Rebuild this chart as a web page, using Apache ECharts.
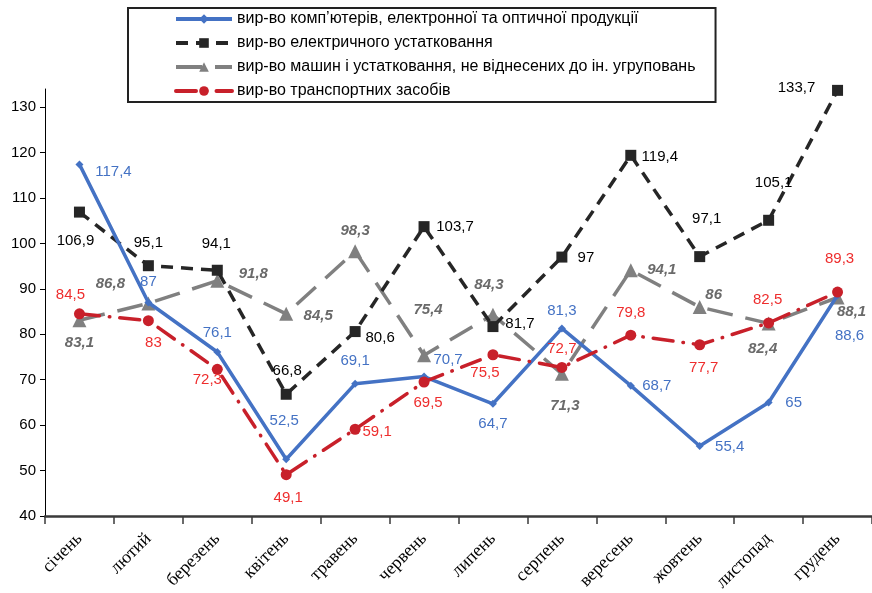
<!DOCTYPE html>
<html>
<head>
<meta charset="utf-8">
<script src="https://cdn.jsdelivr.net/npm/echarts@6/dist/echarts.min.js"></script>
<style>
  html, body { margin: 0; padding: 0; background: #fff; }
  #chart { width: 872px; height: 593px; }
</style>
</head>
<body>
<div id="chart"></div>
<script>
// Місяці року
const months = ['січень', 'лютий', 'березень', 'квітень', 'травень', 'червень',
  'липень', 'серпень', 'вересень', 'жовтень', 'листопад', 'грудень'];

// Індекси виробництва за галузями, %
const computers = [117.4, 87, 76.1, 52.5, 69.1, 70.7, 64.7, 81.3, 68.7, 55.4, 65, 88.6];
const electrical = [106.9, 95.1, 94.1, 66.8, 80.6, 103.7, 81.7, 97, 119.4, 97.1, 105.1, 133.7];
const machinery = [83.1, 86.8, 91.8, 84.5, 98.3, 75.4, 84.3, 71.3, 94.1, 86, 82.4, 88.1];
const transport = [84.5, 83, 72.3, 49.1, 59.1, 69.5, 75.5, 72.7, 79.8, 77.7, 82.5, 89.3];

const seriesNames = [
  'вир-во комп\u2019ютерів, електронної та оптичної продукції',
  'вир-во електричного устатковання',
  'вир-во машин і устатковання, не віднесених до ін. угруповань',
  'вир-во транспортних засобів'
];

// Позначки шкали значень
const yTicks = [40, 50, 60, 70, 80, 90, 100, 110, 120, 130];

// Зміщення підписів відносно точок, px [dx, dy]
const offComputers = [[34, 7], [0, -21], [0, -19], [-2, -38], [0, -23], [24, -17],
  [0, 20], [0, -18], [26, 0], [30, 1], [25, 0], [12, 41]];
const offElectrical = [[-4, 29], [0, -23], [-1, -26], [1, -23], [25, 6], [31, 0],
  [27, -3], [24, 1], [29, 2], [7, -38], [5, -37], [-41, -3]];
const offMachinery = [[0, 23], [-38, -20], [36, -7], [32, 2], [0, -20], [4, -45],
  [-4, -30], [3, 32], [31, 0], [14, -12], [-6, 25], [14, 14]];
const offTransport = [[-9, -19], [5, 22], [-10, 11], [2, 23], [22, 3], [4, 21],
  [-8, 18], [0, -19], [0, -22], [4, 23], [-1, -23], [2, -33]];

const fmt = v => String(v).replace('.', ',');

function withLabels(values, offsets) {
  return values.map((v, i) => ({
    value: v,
    label: { offset: offsets[i] }
  }));
}

function makeSeries(name, values, offsets, opts) {
  return {
    name: name,
    type: 'line',
    data: withLabels(values, offsets),
    symbol: opts.symbol,
    symbolSize: opts.symbolSize,
    showAllSymbol: true,
    z: opts.z,
    itemStyle: { color: opts.color },
    lineStyle: {
      color: opts.color,
      width: opts.width,
      type: opts.dash,
      cap: opts.cap || 'butt'
    },
    label: {
      show: true,
      position: 'inside',
      formatter: p => fmt(p.value),
      fontFamily: 'Liberation Sans, Arial, sans-serif',
      fontSize: 15,
      color: opts.labelColor,
      fontWeight: opts.labelWeight || 'normal',
      fontStyle: opts.labelStyle || 'normal'
    },
    emphasis: { disabled: true },
    animation: false
  };
}

const chart = echarts.init(document.getElementById('chart'));
chart.setOption({
  backgroundColor: '#ffffff',
  animation: false,
  grid: { left: 45, right: 0, top: 89, bottom: 77, containLabel: false, outerBoundsMode: 'none' },
  legend: {
    orient: 'vertical',
    left: 128,
    top: 8,
    padding: [3, 20, 3, 46],
    itemGap: 8,
    itemWidth: 56,
    itemHeight: 12,
    borderColor: '#222',
    borderWidth: 2,
    lineStyle: { width: 4 },
    textStyle: {
      fontFamily: 'Liberation Sans, Arial, sans-serif',
      fontSize: 16,
      color: '#000'
    },
    data: seriesNames
  },
  xAxis: {
    type: 'category',
    data: months,
    boundaryGap: true,
    axisLine: { lineStyle: { color: '#3a3a3a', width: 2.5 } },
    axisTick: { show: true, length: 8, lineStyle: { color: '#3a3a3a', width: 1.5 } },
    axisLabel: {
      rotate: 45,
      margin: 20,
      interval: 0,
      fontFamily: 'Liberation Serif, Times New Roman, serif',
      fontSize: 18,
      color: '#000'
    },
    splitLine: { show: false }
  },
  yAxis: {
    type: 'value',
    min: 40,
    max: 134,
    axisLine: { show: true, lineStyle: { color: '#000', width: 1 } },
    axisTick: { show: true, length: 5, customValues: yTicks, lineStyle: { color: '#000' } },
    axisLabel: {
      customValues: yTicks,
      margin: 9,
      fontFamily: 'Liberation Sans, Arial, sans-serif',
      fontSize: 15,
      color: '#000'
    },
    splitLine: { show: false }
  },
  series: [
    makeSeries(seriesNames[0], computers, offComputers, {
      symbol: 'diamond', symbolSize: 8, color: '#4472c4', width: 3.5, dash: 'solid',
      labelColor: '#4472c4', z: 4
    }),
    makeSeries(seriesNames[1], electrical, offElectrical, {
      symbol: 'rect', symbolSize: 11, color: '#262626', width: 3.5, dash: [12, 8],
      labelColor: '#000', z: 3
    }),
    makeSeries(seriesNames[2], machinery, offMachinery, {
      symbol: 'triangle', symbolSize: 14, color: '#808080', width: 3.5, dash: [26, 13],
      labelColor: '#6a6a6a', labelWeight: 'bold', labelStyle: 'italic', z: 2
    }),
    makeSeries(seriesNames[3], transport, offTransport, {
      symbol: 'circle', symbolSize: 11, color: '#c8202a', width: 3.5, dash: [20, 10, 0.5, 10],
      cap: 'round', labelColor: '#ee2d2d', z: 5
    })
  ]
});
</script>
</body>
</html>
